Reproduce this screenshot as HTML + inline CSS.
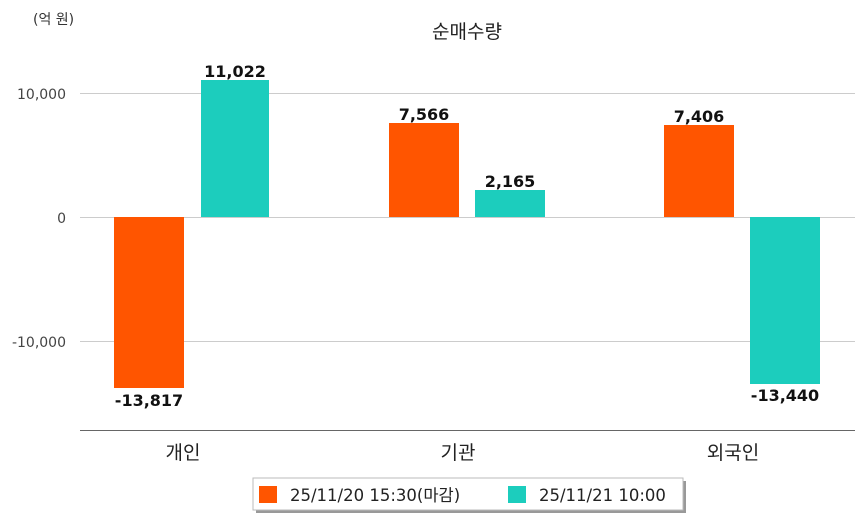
<!DOCTYPE html>
<html><head><meta charset="utf-8"><style>
body{margin:0;background:#fff;}
</style></head><body>
<svg width="863" height="520" xmlns="http://www.w3.org/2000/svg" style="font-family:'DejaVu Sans','Noto Sans CJK KR',sans-serif">
<rect width="863" height="520" fill="#fff"/>
<text x="33" y="24" font-size="14" fill="#333">(억 원)</text>
<text x="467" y="38" font-size="19" fill="#222" text-anchor="middle">순매수량</text>
<g stroke="#ccc" stroke-width="1">
<line x1="80" y1="93.5" x2="855" y2="93.5"/>
<line x1="80" y1="217.5" x2="855" y2="217.5"/>
<line x1="80" y1="341.5" x2="855" y2="341.5"/>
</g>
<line x1="80" y1="430.5" x2="855" y2="430.5" stroke="#666" stroke-width="1"/>
<g font-size="14" fill="#444" text-anchor="end">
<text x="66" y="99">10,000</text>
<text x="66" y="223">0</text>
<text x="66" y="347">-10,000</text>
</g>
<g fill="#ff5500">
<rect x="114" y="217" width="70" height="171"/>
<rect x="389" y="123" width="70" height="94"/>
<rect x="664" y="125" width="70" height="92"/>
</g>
<g fill="#1ccdbd">
<rect x="201" y="80" width="68" height="137"/>
<rect x="475" y="190" width="70" height="27"/>
<rect x="750" y="217" width="70" height="167"/>
</g>
<g font-size="16" font-weight="600" fill="#111" text-anchor="middle">
<text x="149" y="406">-13,817</text>
<text x="235" y="77">11,022</text>
<text x="424" y="120">7,566</text>
<text x="510" y="187">2,165</text>
<text x="699" y="122">7,406</text>
<text x="785" y="401">-13,440</text>
</g>
<g font-size="19" fill="#222" text-anchor="middle">
<text x="183" y="459">개인</text>
<text x="458" y="459">기관</text>
<text x="733" y="459">외국인</text>
</g>
<rect x="256" y="481" width="430" height="32" fill="#999"/>
<rect x="253" y="478" width="430" height="32" fill="#fff" stroke="#bbb"/>
<rect x="259" y="486" width="18" height="17" fill="#ff5500"/>
<text x="290" y="501" font-size="16.5" fill="#222">25/11/20 15:30(마감)</text>
<rect x="508" y="486" width="18" height="17" fill="#1ccdbd"/>
<text x="539" y="501" font-size="16.5" fill="#222">25/11/21 10:00</text>
</svg>
</body></html>
